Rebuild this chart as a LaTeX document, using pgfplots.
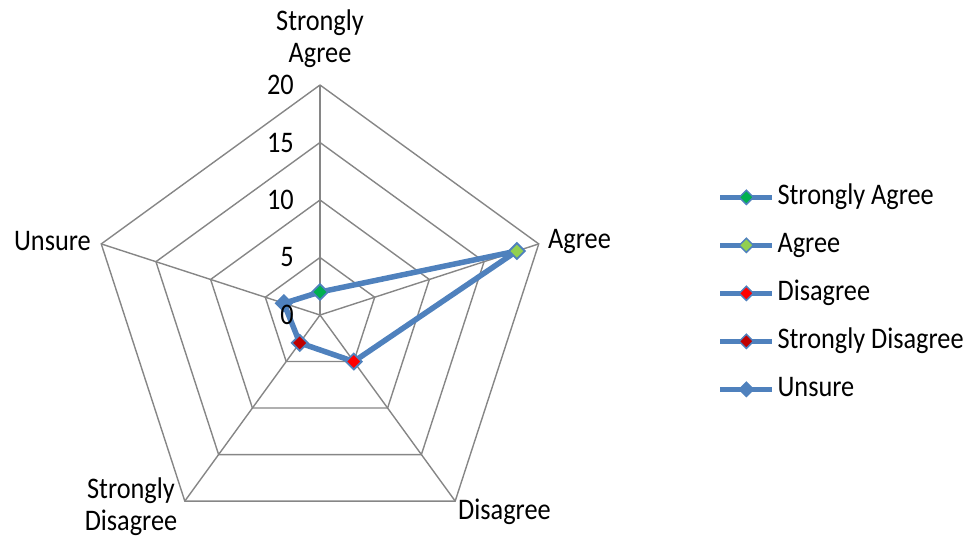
\documentclass[border=0pt]{standalone}
\usepackage{pgfplots}
\pgfplotsset{compat=1.18}
\usepackage{fontspec}
\setmainfont{Carlito}[FakeStretch=0.88]
\definecolor{serblue}{RGB}{79,129,189}
\definecolor{gridgray}{RGB}{134,134,134}
\definecolor{sagreen}{RGB}{0,176,80}
\definecolor{agreen}{RGB}{146,208,80}
\definecolor{dred}{RGB}{255,0,0}
\definecolor{sdred}{RGB}{192,0,0}
\begin{document}
\begin{tikzpicture}[font=\fontsize{30}{36}\selectfont]
\path[use as bounding box] (0,0) rectangle (972bp,-540bp);
\begin{axis}[
  at={(320bp,-315bp)}, anchor=origin,
  x=11.5bp, y=11.5bp,
  xmin=-20, xmax=20, ymin=-17, ymax=20,
  hide axis, clip=false,
  legend style={draw=none, fill=none, inner sep=0pt,
    at={(axis description cs:1.365,0.774)}, anchor=north west,
    row sep=16bp,
    nodes={inner sep=3bp, text height=20bp, text depth=6bp, anchor=west},
    font=\fontsize{30}{36}\selectfont},
  legend cell align=left,
  legend image code/.code={\draw[#1,mark repeat=2,mark phase=2] plot coordinates {(0bp,0bp)(26bp,0bp)(52bp,0bp)};},
  mk/.style={only marks, mark=square*, mark size=5.6bp, mark options={rotate=45, draw=serblue, line width=1.8bp, fill=#1}},
  lg/.style={serblue, line width=4.5bp, mark=square*, mark size=5bp, mark options={rotate=45, fill=#1, draw=serblue, line width=1.5bp}},
]
% grid pentagons
\foreach \r in {5,10,15,20}{
  \addplot[gridgray, line width=1.4bp, data cs=polar, forget plot] coordinates {(90,\r) (18,\r) (-54,\r) (-126,\r) (162,\r) (90,\r)};
}
% spokes
\addplot[gridgray, line width=1.4bp, data cs=polar, forget plot] coordinates {(90,0) (90,20)};
\addplot[gridgray, line width=1.4bp, data cs=polar, forget plot] coordinates {(18,0) (18,20)};
\addplot[gridgray, line width=1.4bp, data cs=polar, forget plot] coordinates {(-54,0) (-54,20)};
\addplot[gridgray, line width=1.4bp, data cs=polar, forget plot] coordinates {(-126,0) (-126,20)};
\addplot[gridgray, line width=1.4bp, data cs=polar, forget plot] coordinates {(162,0) (162,20)};
% series
\addplot[serblue, line width=5.5bp, line join=round, data cs=polar, forget plot] coordinates {(90,2) (18,18) (-54,5) (-126,3) (162,3.3) (90,2)};
\addplot[mk=sagreen, data cs=polar, forget plot] coordinates {(90,2)};
\addplot[mk=agreen, data cs=polar, forget plot] coordinates {(18,18)};
\addplot[mk=dred, data cs=polar, forget plot] coordinates {(-54,5)};
\addplot[mk=sdred, data cs=polar, forget plot] coordinates {(-126,3)};
\addplot[mk=serblue, data cs=polar, forget plot] coordinates {(162,3.3)};
% legend
\addlegendimage{lg=sagreen}
\addlegendentry{Strongly Agree}
\addlegendimage{lg=agreen}
\addlegendentry{Agree}
\addlegendimage{lg=dred}
\addlegendentry{Disagree}
\addlegendimage{lg=sdred}
\addlegendentry{Strongly Disagree}
\addlegendimage{lg=serblue}
\addlegendentry{Unsure}
\end{axis}
% scale numbers
\foreach \v/\y in {20/85, 15/142.5, 10/200, 5/257.5, 0/315}{
  \node[anchor=east, inner sep=0pt] at (294bp,-\y bp) {\v};
}
% category labels
\node[align=center, inner sep=0pt, anchor=center] at (320bp,-39bp) {Strongly\\[-4bp]Agree};
\node[anchor=west, inner sep=0pt] at (548bp,-241bp) {Agree};
\node[anchor=east, inner sep=0pt] at (91bp,-241bp) {Unsure};
\node[anchor=west, inner sep=0pt] at (458bp,-512bp) {Disagree};
\node[align=center, inner sep=0pt, anchor=center] at (131bp,-507bp) {Strongly\\[-4bp]Disagree};
\end{tikzpicture}
\end{document}
